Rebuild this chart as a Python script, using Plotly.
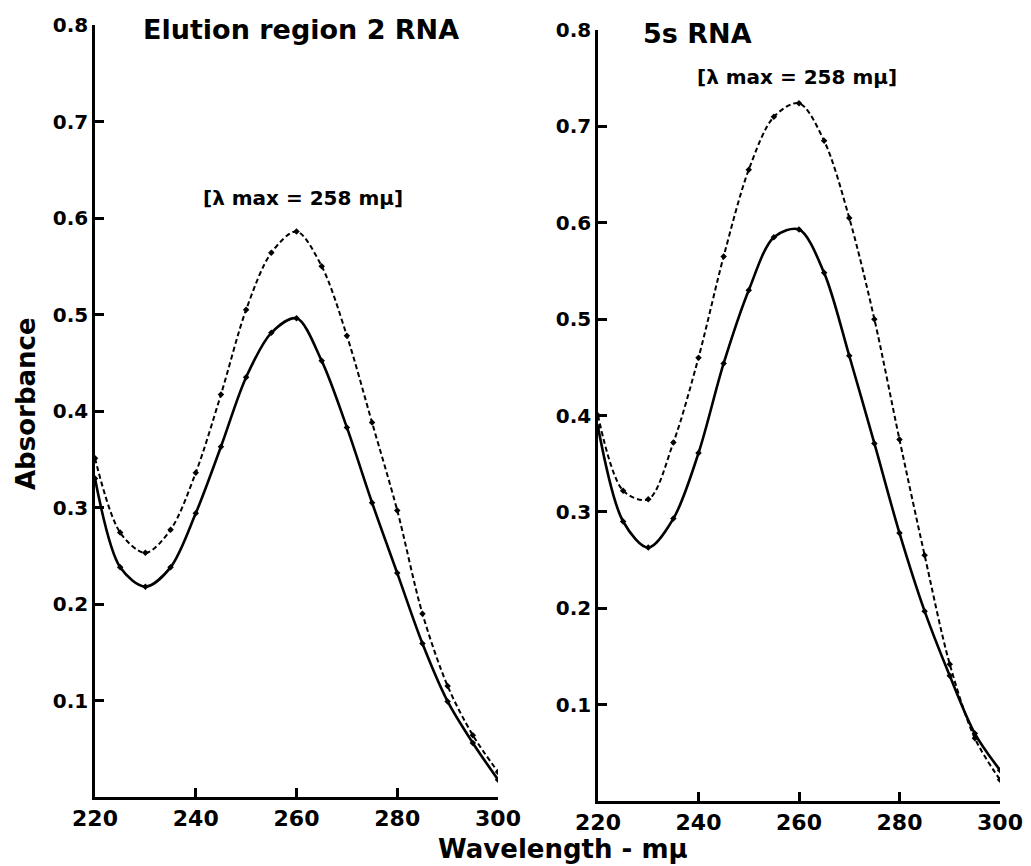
import plotly.graph_objects as go
from plotly.subplots import make_subplots

# ---- data ----
wavelength = [220, 225, 230, 235, 240, 245, 250, 255, 260, 265, 270, 275, 280, 285, 290, 295, 300]

elution_solid = [0.330, 0.238, 0.218, 0.238, 0.294, 0.363, 0.435, 0.481, 0.496, 0.452, 0.383, 0.305, 0.232, 0.159, 0.099, 0.056, 0.018]
elution_dashed = [0.351, 0.274, 0.253, 0.277, 0.336, 0.417, 0.505, 0.564, 0.586, 0.550, 0.478, 0.388, 0.297, 0.190, 0.115, 0.064, 0.026]

rna5s_solid = [0.388, 0.290, 0.263, 0.293, 0.361, 0.454, 0.530, 0.585, 0.593, 0.548, 0.462, 0.371, 0.278, 0.197, 0.130, 0.070, 0.032]
rna5s_dashed = [0.400, 0.322, 0.313, 0.372, 0.460, 0.565, 0.655, 0.710, 0.724, 0.685, 0.605, 0.500, 0.375, 0.255, 0.142, 0.065, 0.022]

panel_titles = ["Elution region 2 RNA", "5s RNA"]
lambda_label = "[λ max = 258 mμ]"
x_ticks = [220, 240, 260, 280, 300]
y_ticks = [0.1, 0.2, 0.3, 0.4, 0.5, 0.6, 0.7, 0.8]
y_ticktext = ["0.1", "0.2", "0.3", "0.4", "0.5", "0.6", "0.7", "0.8"]

FONT = "DejaVu Sans"
OFF = 8  # page body margin
W, H = 1031 - OFF, 866 - OFF
ML, MR, MT, MB = 87, 31, 17, 65
PW = W - ML - MR
PH = H - MT - MB

def px(xs):
    return (xs - OFF - ML) / PW

def py(ys):
    return (H - MB - (ys - OFF)) / PH

fig = make_subplots(rows=1, cols=2)

def add_pair(col, solid, dashed):
    fig.add_trace(go.Scatter(
        x=wavelength, y=dashed, mode="lines+markers",
        line=dict(color="black", width=2, dash="5px,3px", shape="spline", smoothing=0.9),
        marker=dict(color="black", size=5, symbol="diamond"),
        showlegend=False, hoverinfo="x+y"), row=1, col=col)
    fig.add_trace(go.Scatter(
        x=wavelength, y=solid, mode="lines+markers",
        line=dict(color="black", width=2.6, shape="spline", smoothing=0.9),
        marker=dict(color="black", size=5, symbol="diamond"),
        showlegend=False, hoverinfo="x+y"), row=1, col=col)

add_pair(1, elution_solid, elution_dashed)
add_pair(2, rna5s_solid, rna5s_dashed)

axis_common = dict(
    showgrid=False, zeroline=False, showline=True, linecolor="black", linewidth=2.5,
    ticks="inside", ticklen=9, tickwidth=2.5, tickcolor="black",
)

fig.update_xaxes(range=[220, 300], tickvals=x_ticks, ticktext=[str(v) for v in x_ticks],
                 tickfont=dict(family=FONT, size=22, color="black", weight="bold"), **axis_common)
fig.update_yaxes(range=[0, 0.8], tickvals=y_ticks, ticktext=y_ticktext,
                 tickfont=dict(family=FONT, size=20, color="black", weight="bold"), **axis_common)

fig.update_layout(
    xaxis=dict(domain=[0, px(498)]),
    xaxis2=dict(domain=[px(598), 1]),
    yaxis=dict(domain=[py(797), py(25)]),
    yaxis2=dict(domain=[py(801), py(30)]),
)

ann_font = dict(family=FONT, size=20, color="black", weight="bold")
title_font = dict(family=FONT, size=27, color="black", weight="bold")
axis_title_font = dict(family=FONT, size=26, color="black", weight="bold")
annotations = [
    dict(text=panel_titles[0], xref="paper", yref="paper", x=px(141), y=py(30),
         xanchor="left", yanchor="middle", showarrow=False, font=title_font),
    dict(text=panel_titles[1], xref="paper", yref="paper", x=px(641), y=py(34),
         xanchor="left", yanchor="middle", showarrow=False, font=title_font),
    dict(text=lambda_label, xref="paper", yref="paper", x=px(303), y=py(198),
         xanchor="center", yanchor="middle", showarrow=False, font=ann_font),
    dict(text=lambda_label, xref="paper", yref="paper", x=px(797), y=py(77),
         xanchor="center", yanchor="middle", showarrow=False, font=ann_font),
    dict(text="Absorbance", xref="paper", yref="paper", x=px(26), y=py(404),
         xanchor="center", yanchor="middle", textangle=-90, showarrow=False,
         font=axis_title_font),
    dict(text="Wavelength - mμ", xref="paper", yref="paper", x=px(563), y=py(849),
         xanchor="center", yanchor="middle", showarrow=False, font=axis_title_font),
]

fig.update_layout(
    width=W, height=H,
    margin=dict(l=ML, r=MR, t=MT, b=MB, autoexpand=False),
    paper_bgcolor="white", plot_bgcolor="white",
    annotations=annotations,
    showlegend=False,
)

fig.write_html("out.html")
